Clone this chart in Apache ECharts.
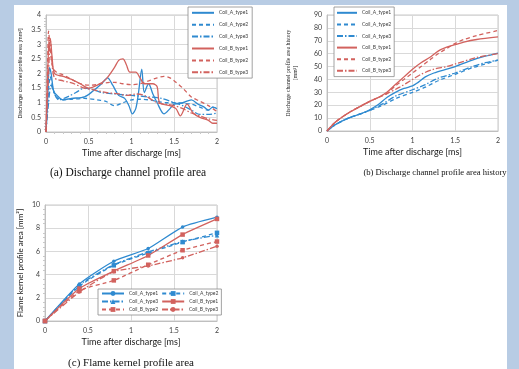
<!DOCTYPE html>
<html>
<head>
<meta charset="utf-8">
<script src="https://cdn.jsdelivr.net/npm/echarts@6/dist/echarts.min.js"></script>
<style>
  html, body { margin: 0; padding: 0; background: #b8cce4; }
  #main { width: 519px; height: 369px; }
</style>
</head>
<body>
<div id="main"></div>
<script>
// series names shared by the three panels
const seriesNames = ['Coil_A_type1', 'Coil_A_type2', 'Coil_A_type3', 'Coil_B_type1', 'Coil_B_type2', 'Coil_B_type3']

// (a) discharge channel profile area [mm2] vs time [ms]
const aCoilA1 = [[0,0],[0.02,1.2],[0.04,2.2],[0.06,2.0],[0.09,1.4],[0.13,1.25],[0.2,1.1],[0.3,1.15],[0.45,1.2],[0.55,1.4],[0.65,1.65],[0.72,1.85],[0.78,1.6],[0.85,1.25],[0.92,1.15],[0.97,0.9],[1.01,0.62],[1.05,0.8],[1.08,1.3],[1.12,2.15],[1.15,1.35],[1.2,1.65],[1.25,1.3],[1.3,1.0],[1.38,0.62],[1.45,0.8],[1.5,0.95],[1.6,1.0],[1.7,1.1],[1.78,0.95],[1.85,0.85],[1.9,0.75],[1.95,0.85],[2,0.8]]
const aCoilA2 = [[0,0],[0.02,1.0],[0.05,1.9],[0.08,1.5],[0.12,1.2],[0.2,1.1],[0.3,1.12],[0.45,1.15],[0.6,1.1],[0.7,1.05],[0.8,0.9],[0.9,1.0],[1.0,1.1],[1.1,1.12],[1.2,1.1],[1.3,1.05],[1.4,1.0],[1.5,1.0],[1.6,0.98],[1.7,0.95],[1.8,0.85],[1.9,0.75],[1.95,0.85],[2,0.8]]
const aCoilA3 = [[0,0],[0.03,1.0],[0.06,1.6],[0.1,1.3],[0.15,1.1],[0.25,1.2],[0.35,1.35],[0.45,1.5],[0.55,1.45],[0.65,1.35],[0.8,1.3],[1.0,1.25],[1.2,1.2],[1.35,1.15],[1.5,1.0],[1.6,0.9],[1.7,0.75],[1.8,0.6],[1.9,0.6],[2,0.65]]
const aCoilB1 = [[0,0],[0.02,2.0],[0.035,3.1],[0.05,3.15],[0.07,2.6],[0.1,2.0],[0.2,1.9],[0.3,1.8],[0.4,1.65],[0.5,1.5],[0.6,1.6],[0.7,1.8],[0.8,2.2],[0.85,2.45],[0.9,2.5],[0.94,2.3],[0.98,2.05],[1.05,2.05],[1.1,1.85],[1.15,1.65],[1.25,1.65],[1.3,1.55],[1.33,1.0],[1.45,0.9],[1.52,0.8],[1.57,0.55],[1.65,0.95],[1.72,0.65],[1.8,0.5],[1.9,0.4],[1.95,0.3],[2,0.3]]
const aCoilB2 = [[0,0],[0.02,2.5],[0.03,3.45],[0.05,2.8],[0.08,2.2],[0.12,2.05],[0.2,1.95],[0.3,1.8],[0.4,1.65],[0.5,1.6],[0.6,1.62],[0.7,1.68],[0.8,1.7],[0.9,1.65],[1.0,1.62],[1.1,1.65],[1.2,1.75],[1.3,1.85],[1.38,1.9],[1.45,1.85],[1.52,1.7],[1.6,1.5],[1.7,1.2],[1.8,1.05],[1.9,0.9],[2,0.7]]
const aCoilB3 = [[0,0],[0.03,2.0],[0.05,3.2],[0.07,2.4],[0.1,1.85],[0.2,1.75],[0.3,1.68],[0.45,1.5],[0.55,1.45],[0.7,1.35],[0.85,1.3],[0.95,1.25],[1.05,1.3],[1.15,1.25],[1.3,1.0],[1.4,0.95],[1.5,0.9],[1.6,0.8],[1.7,0.65],[1.8,0.55],[1.9,0.45],[2,0.4]]

// (b) cumulative discharge channel profile area history
const bCoilA1 = [[0,0],[0.1,5],[0.25,10],[0.4,13.5],[0.5,16.5],[0.6,20.5],[0.7,26],[0.8,30],[0.9,33],[1.0,35],[1.05,37],[1.15,42],[1.25,45],[1.4,48],[1.5,50],[1.7,55],[1.85,58],[2,60.5]]
const bCoilA2 = [[0,0],[0.1,5],[0.25,10],[0.4,13.5],[0.5,16],[0.65,20],[0.8,25],[1.0,30],[1.15,34],[1.3,39],[1.5,44],[1.7,49],[1.85,52],[2,55]]
const bCoilA3 = [[0,0],[0.1,5],[0.25,10],[0.4,13.5],[0.5,16],[0.65,21],[0.8,27],[1.0,32],[1.15,36],[1.3,41],[1.5,45],[1.7,50],[1.85,53],[2,55]]
const bCoilB1 = [[0,0],[0.1,7],[0.25,14],[0.4,19.5],[0.5,23],[0.6,26],[0.7,30],[0.8,36],[0.9,42],[1.0,48],[1.1,53],[1.2,57],[1.3,62],[1.4,65],[1.5,67],[1.6,69],[1.75,71],[2,73]]
const bCoilB2 = [[0,0],[0.1,7],[0.25,14],[0.4,19.5],[0.5,23],[0.6,26],[0.7,29],[0.8,35],[0.9,40],[1.0,45],[1.1,50],[1.2,55],[1.3,60],[1.4,64],[1.5,68],[1.6,71],[1.75,74],[2,78]]
const bCoilB3 = [[0,0],[0.1,7],[0.25,14],[0.4,19.5],[0.5,23],[0.6,26],[0.7,29],[0.85,34],[1.0,40],[1.1,44],[1.25,48],[1.4,50],[1.5,52],[1.75,57],[2,60]]

// (c) flame kernel profile area, sampled every 0.4 ms
const cTime = [0, 0.4, 0.8, 1.2, 1.6, 2.0]
const cCoilA1 = [0, 3.2, 5.15, 6.25, 8.1, 8.95]
const cCoilA2 = [0, 3.0, 4.8, 5.85, 6.8, 7.6]
const cCoilA3 = [0, 3.1, 4.85, 5.95, 6.85, 7.4]
const cCoilB1 = [0, 2.8, 4.3, 5.65, 7.45, 8.8]
const cCoilB2 = [0, 2.6, 3.5, 4.85, 6.1, 6.85]
const cCoilB3 = [0, 2.5, 4.25, 4.75, 5.45, 6.45]

const blue = '#2f8ad0'
const red = '#d2625e'
const colors = [blue, blue, blue, red, red, red]
const dashes = ['solid', [4, 3], [6, 2, 1.5, 2], 'solid', [4, 3], [6, 2, 1.5, 2]]
const cSymbols = ['circle', 'rect', 'triangle', 'rect', 'rect', 'circle']

const tickFont = { fontFamily: 'Lato', fontSize: 7, color: '#404040' }

function xAxisFor(gridIndex, minor) {
  return {
    type: 'value',
    gridIndex,
    min: 0,
    max: 2,
    interval: 0.5,
    name: 'Time after discharge [ms]',
    nameLocation: 'middle',
    nameGap: 17,
    nameTextStyle: { fontFamily: 'Lato', fontSize: 9, color: '#1a1a1a' },
    axisLine: { show: true, lineStyle: { color: '#bfbfbf' } },
    axisTick: { show: false },
    minorTick: { show: minor, splitNumber: 5, length: 2, lineStyle: { color: '#c8c8c8' } },
    axisLabel: { ...tickFont, margin: 6 },
    splitLine: { show: true, lineStyle: { color: '#d9d9d9', width: 1 } }
  }
}

function yAxisFor(gridIndex, max, interval, name, nameGap, nameStyle, minor) {
  return {
    type: 'value',
    gridIndex,
    min: 0,
    max,
    interval,
    name,
    nameLocation: 'middle',
    nameGap,
    nameTextStyle: nameStyle,
    axisLine: { show: true, lineStyle: { color: '#bfbfbf' } },
    axisTick: { show: false },
    minorTick: { show: minor, splitNumber: 5, length: 2, lineStyle: { color: '#c8c8c8' } },
    axisLabel: { ...tickFont, margin: 5 },
    splitLine: { show: true, lineStyle: { color: '#d9d9d9', width: 1 } }
  }
}

// names carry a panel suffix so each legend picks up its own series; the formatter hides it
function lineSeries(name, idx, axisIndex, data) {
  return {
    name,
    type: 'line',
    xAxisIndex: axisIndex,
    yAxisIndex: axisIndex,
    data,
    smooth: 0.3,
    symbol: 'none',
    color: colors[idx],
    lineStyle: { color: colors[idx], width: 1.3, type: dashes[idx] },
    emphasis: { disabled: true }
  }
}

const aData = [aCoilA1, aCoilA2, aCoilA3, aCoilB1, aCoilB2, aCoilB3]
const bData = [bCoilA1, bCoilA2, bCoilA3, bCoilB1, bCoilB2, bCoilB3]
const cData = [cCoilA1, cCoilA2, cCoilA3, cCoilB1, cCoilB2, cCoilB3]

const series = []
aData.forEach((d, i) => series.push(lineSeries(seriesNames[i] + '#a', i, 0, d)))
bData.forEach((d, i) => series.push(lineSeries(seriesNames[i] + '#b', i, 1, d)))
cData.forEach((d, i) => {
  const s = lineSeries(seriesNames[i] + '#c', i, 2, cTime.map((t, k) => [t, d[k]]))
  s.symbol = cSymbols[i]
  s.symbolSize = cSymbols[i] === 'circle' ? 3.5 : 4.5
  s.showSymbol = true
  s.itemStyle = { color: colors[i] }
  s.smooth = 0.2
  series.push(s)
})

const legendText = { fontFamily: 'Lato', fontSize: 5, color: '#404040' }
const legendBase = {
  backgroundColor: '#fff',
  borderColor: '#8c8c8c',
  borderWidth: 0.8,
  textStyle: legendText,
  selectedMode: false,
  formatter: (n) => n.split('#')[0]
}

const myChart = echarts.init(document.getElementById('main'))
myChart.setOption({
  animation: false,
  backgroundColor: '#b8cce4',
  graphic: [
    { type: 'rect', shape: { x: 14, y: 5, width: 493, height: 364 }, style: { fill: '#fff' }, z: -10 },
    { type: 'text', x: 128, y: 173, style: { text: '(a) Discharge channel profile area', font: '11.5px "Liberation Serif"', fill: '#111', align: 'center', verticalAlign: 'middle' } },
    { type: 'text', x: 435, y: 173, style: { text: '(b) Discharge channel profile area history', font: '8.6px "Liberation Serif"', fill: '#111', align: 'center', verticalAlign: 'middle' } },
    { type: 'text', x: 131, y: 363, style: { text: '(c) Flame kernel profile area', font: '11px "Liberation Serif"', fill: '#111', align: 'center', verticalAlign: 'middle' } }
  ],
  grid: [
    { left: 46, top: 15, width: 171, height: 117, show: true, borderColor: '#c8c8c8', backgroundColor: 'transparent' },
    { left: 327, top: 15, width: 171, height: 116, show: true, borderColor: '#c8c8c8', backgroundColor: 'transparent' },
    { left: 45, top: 205, width: 172, height: 116, show: true, borderColor: '#c8c8c8', backgroundColor: 'transparent' }
  ],
  xAxis: [xAxisFor(0, true), xAxisFor(1, false), xAxisFor(2, false)],
  yAxis: [
    yAxisFor(0, 4, 0.5, 'Discharge channel profile area [mm²]', 23,
      { fontFamily: 'Liberation Sans', fontSize: 5.5, color: '#222' }, true),
    yAxisFor(1, 90, 10, 'Discharge channel profile area history\n[mm²]', 28,
      { fontFamily: 'Liberation Serif', fontSize: 5.7, color: '#222', lineHeight: 7 }, false),
    yAxisFor(2, 10, 2, 'Flame kernel profile area [mm²]', 21,
      { fontFamily: 'Lato', fontSize: 8, color: '#222' }, true)
  ],
  legend: [
    {
      ...legendBase,
      data: seriesNames.map((n) => n + '#a'),
      left: 188,
      top: 7,
      orient: 'vertical',
      itemWidth: 22,
      itemHeight: 7,
      itemGap: 6.3,
      padding: [3, 4, 3, 3],
      itemStyle: { opacity: 0 }
    },
    {
      ...legendBase,
      data: seriesNames.map((n) => n + '#b'),
      left: 334,
      top: 7,
      orient: 'vertical',
      itemWidth: 20,
      itemHeight: 7,
      itemGap: 6,
      padding: [3, 3, 3, 2],
      itemStyle: { opacity: 0 }
    },
    {
      ...legendBase,
      data: seriesNames.map((n) => n + '#c'),
      left: 98,
      top: 289,
      width: 118,
      orient: 'horizontal',
      itemWidth: 22,
      itemHeight: 6,
      itemGap: 3,
      padding: [2, 3, 3, 3]
    }
  ],
  series
})
</script>
</body>
</html>
